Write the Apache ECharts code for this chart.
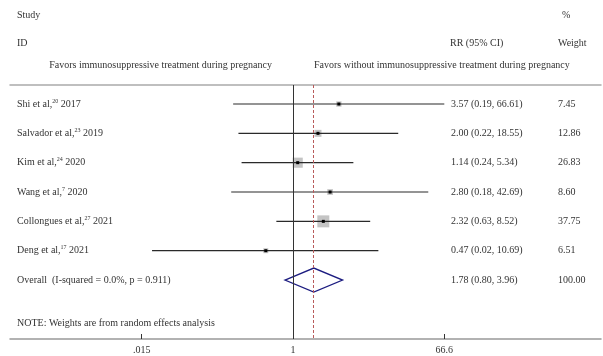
<!DOCTYPE html>
<html><head><meta charset="utf-8">
<script src="https://cdn.jsdelivr.net/npm/echarts@6/dist/echarts.min.js"></script>
<style>html,body{margin:0;padding:0;background:#fff}#c{width:603px;height:356px}</style>
</head><body><div id="c"></div>
<script>
const studies = ['Shi et al,', 'Salvador et al,', 'Kim et al,', 'Wang et al,', 'Collongues et al,', 'Deng et al,'];
const refs = ['20', '23', '24', '7', '27', '17'];
const years = ['2017', '2019', '2020', '2020', '2021', '2021'];
const rr = [3.57, 2.00, 1.14, 2.80, 2.32, 0.47];
const lower = [0.19, 0.22, 0.24, 0.18, 0.63, 0.02];
const upper = [66.61, 18.55, 5.34, 42.69, 8.52, 10.69];
const weights = [7.45, 12.86, 26.83, 8.60, 37.75, 6.51];
const overallLabel = 'Overall  (I-squared = 0.0%, p = 0.911)';
const overallRR = 1.78;
const overallLower = 0.80;
const overallUpper = 3.96;
const overallWeight = 100.00;
const tickValues = [0.015, 1, 66.6];
const tickLabels = ['.015', '1', '66.6'];

const FONT = 'Liberation Serif';
const TXT = '#333';
const lg = v => Math.log10(v);
const tickLog = tickValues.map(lg);

const rowData = rr.map((v, i) => [i, lg(lower[i]), lg(upper[i]), lg(v), weights[i]]);
const ovIndex = rr.length;
const overallData = [[ovIndex, lg(overallLower), lg(overallUpper), lg(overallRR), overallWeight]];
const textData = rr.map((v, i) => [i, 0]).concat([[ovIndex, 0]]);

const chart = echarts.init(document.getElementById('c'));
chart.setOption({
  animation: false,
  grid: { left: 10, right: 2, top: 85, bottom: 17 },
  xAxis: [{
    type: 'value', min: -3.4109, max: 3.7122, position: 'bottom',
    axisLine: { show: true, onZero: false, lineStyle: { color: '#999', width: 1.5 } },
    axisTick: { show: true, inside: true, length: 5, customValues: tickLog, lineStyle: { color: '#333', width: 1 } },
    axisLabel: {
      customValues: tickLog, margin: 6, fontFamily: FONT, fontSize: 10, color: TXT,
      formatter: v => { let b = 0; tickLog.forEach((t, k) => { if (Math.abs(t - v) < Math.abs(tickLog[b] - v)) b = k; }); return tickLabels[b]; }
    },
    splitLine: { show: false }
  }, {
    type: 'value', position: 'top', min: 0, max: 1,
    axisLine: { show: true, onZero: false, lineStyle: { color: '#aaa', width: 1.5 } },
    axisTick: { show: false }, axisLabel: { show: false }, splitLine: { show: false }
  }],
  yAxis: { type: 'value', inverse: true, min: -0.648, max: 8.01, show: false, axisLine: { onZero: false } },
  series: [{
    type: 'custom', xAxisIndex: 0,
    encode: { x: [1, 2, 3], y: 0 },
    data: rowData,
    renderItem: (params, api) => {
      const i = api.value(0);
      const pL = api.coord([api.value(1), i]);
      const pH = api.coord([api.value(2), i]);
      const pE = api.coord([api.value(3), i]);
      const side = 1.95 * Math.sqrt(api.value(4));
      return { type: 'group', children: [
        { type: 'rect', shape: { x: pE[0] - side / 2, y: pE[1] - side / 2, width: side, height: side }, style: { fill: '#c4c4c4' } },
        { type: 'line', shape: { x1: pL[0], y1: pL[1], x2: pH[0], y2: pH[1] }, style: { stroke: '#2a2a2a', lineWidth: 1.2 } },
        { type: 'rect', shape: { x: pE[0] - 1.5, y: pE[1] - 1.5, width: 3, height: 3 }, style: { fill: '#000' } }
      ] };
    },
    markLine: {
      silent: true, symbol: 'none', label: { show: false },
      data: [
        { xAxis: 0, lineStyle: { color: '#333', width: 1, type: 'solid' } },
        { xAxis: lg(overallRR), lineStyle: { color: '#b85a5a', width: 1, type: [3, 2] } }
      ]
    },
    z: 3
  }, {
    type: 'custom', xAxisIndex: 0,
    encode: { x: [1, 2, 3], y: 0 },
    data: overallData,
    renderItem: (params, api) => {
      const i = api.value(0);
      const pL = api.coord([api.value(1), i]);
      const pH = api.coord([api.value(2), i]);
      const pE = api.coord([api.value(3), i]);
      const h = 12;
      return { type: 'polygon', shape: { points: [[pL[0], pL[1]], [pE[0], pE[1] - h], [pH[0], pH[1]], [pE[0], pE[1] + h]] },
        style: { fill: 'none', stroke: '#1c1c80', lineWidth: 1.3 } };
    },
    z: 4
  }, {
    type: 'custom', xAxisIndex: 0,
    encode: { x: 1, y: 0 },
    data: textData,
    renderItem: (params, api) => {
      const i = api.value(0);
      const y = api.coord([0, i])[1];
      const isOv = i === ovIndex;
      const label = isOv ? '{n|' + overallLabel + '}' : '{n|' + studies[i] + '}{s|' + refs[i] + '}{n| ' + years[i] + '}';
      const est = isOv ? overallRR : rr[i];
      const lo = isOv ? overallLower : lower[i];
      const hi = isOv ? overallUpper : upper[i];
      const w = isOv ? overallWeight : weights[i];
      const base = { fontFamily: FONT, fontSize: 10, fill: TXT, verticalAlign: 'middle', align: 'left' };
      return { type: 'group', children: [
        { type: 'text', x: 17, y: y, style: Object.assign({}, base, { text: label,
          rich: { n: { fontFamily: FONT, fontSize: 10, fill: TXT, color: TXT, lineHeight: 12 },
                  s: { fontFamily: FONT, fontSize: 6, fill: TXT, color: TXT, lineHeight: 12, verticalAlign: 'top', padding: [0, 0, 4, 0] } } }) },
        { type: 'text', x: 451, y: y, style: Object.assign({}, base, { text: est.toFixed(2) + ' (' + lo.toFixed(2) + ', ' + hi.toFixed(2) + ')' }) },
        { type: 'text', x: 558, y: y, style: Object.assign({}, base, { text: w.toFixed(2) }) }
      ] };
    },
    z: 5
  }],
  graphic: [
    { type: 'text', left: 17, top: 10, style: { text: 'Study', font: '10px "Liberation Serif"', fill: TXT } },
    { type: 'text', left: 562, top: 10, style: { text: '%', font: '10px "Liberation Serif"', fill: TXT } },
    { type: 'text', left: 17, top: 38, style: { text: 'ID', font: '10px "Liberation Serif"', fill: TXT } },
    { type: 'text', left: 450, top: 38, style: { text: 'RR (95% CI)', font: '10px "Liberation Serif"', fill: TXT } },
    { type: 'text', left: 558, top: 38, style: { text: 'Weight', font: '10px "Liberation Serif"', fill: TXT } },
    { type: 'text', x: 272, y: 65, style: { text: 'Favors immunosuppressive treatment during pregnancy', font: '10px "Liberation Serif"', fill: TXT, align: 'right', verticalAlign: 'middle' } },
    { type: 'text', x: 314, y: 65, style: { text: 'Favors without immunosuppressive treatment during pregnancy', font: '10px "Liberation Serif"', fill: TXT, align: 'left', verticalAlign: 'middle' } },
    { type: 'text', x: 17, y: 323, style: { text: 'NOTE: Weights are from random effects analysis', font: '10px "Liberation Serif"', fill: TXT, align: 'left', verticalAlign: 'middle' } }
  ]
});
</script></body></html>
